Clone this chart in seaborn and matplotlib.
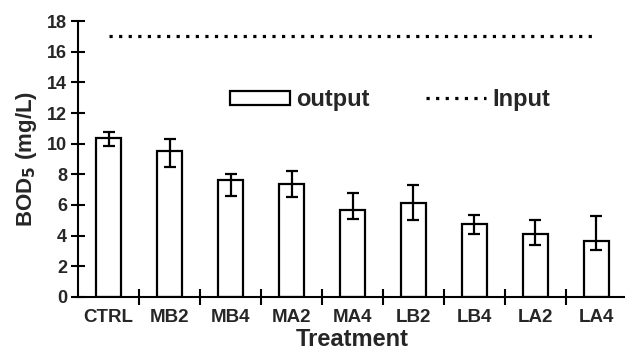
import matplotlib
matplotlib.use("Agg")
import matplotlib.pyplot as plt
import seaborn as sns
import pandas as pd
import numpy as np
from matplotlib.patches import Patch
from matplotlib.lines import Line2D

categories = ["CTRL", "MB2", "MB4", "MA2", "MA4", "LB2", "LB4", "LA2", "LA4"]
output_values = [10.4, 9.5, 7.6, 7.4, 5.7, 6.15, 4.75, 4.1, 3.65]
err_low = [0.55, 1.0, 1.0, 0.9, 0.6, 1.15, 0.65, 0.7, 0.6]
err_high = [0.35, 0.8, 0.45, 0.8, 1.1, 1.15, 0.6, 0.9, 1.6]
input_level = 17
yticks = [0, 2, 4, 6, 8, 10, 12, 14, 16, 18]

sns.set_style("white")
plt.rcParams["font.family"] = ["Liberation Sans", "DejaVu Sans"]
plt.rcParams["font.weight"] = "bold"

fig = plt.figure(figsize=(6.25, 3.51), dpi=100)
ax = fig.add_axes([0.125, 0.154, 0.878, 0.786])

df = pd.DataFrame({"Treatment": categories, "BOD": output_values})
sns.barplot(data=df, x="Treatment", y="BOD", color="white", edgecolor="black",
            linewidth=1.6, width=0.41, ax=ax, errorbar=None, saturation=1)
for p in ax.patches:
    p.set_facecolor("white")

pos = np.arange(len(categories))
ax.errorbar(pos, output_values, yerr=[err_low, err_high], fmt="none",
            ecolor="black", elinewidth=1.6, capsize=4.5, capthick=1.6)

ax.plot([pos[0], pos[-1]], [input_level, input_level], color="black",
        linestyle=(0, (1, 2)), linewidth=2.3, dash_capstyle="butt")

ax.set_xlim(-0.5, len(categories) - 0.5)
ax.set_ylim(0, 18)
ax.set_yticks(yticks)
ax.set_yticklabels([str(t) for t in yticks], fontsize=13, fontweight="bold")
ax.set_xticks(pos)
ax.set_xticklabels(categories, fontsize=13.5, fontweight="bold")
ax.tick_params(axis="x", which="major", bottom=True, length=0, pad=9)
ax.tick_params(axis="y", left=True, direction="inout", length=10, width=1.5,
               pad=3, color="black")
# minor ticks at category boundaries
ax.set_xticks(pos[1:] - 0.5, minor=True)
ax.tick_params(axis="x", which="minor", bottom=True, direction="inout",
               length=11, width=1.5, color="black")

for s in ["top", "right"]:
    ax.spines[s].set_visible(False)
for s in ["left", "bottom"]:
    ax.spines[s].set_linewidth(1.5)
    ax.spines[s].set_color("black")

ax.set_xlabel("Treatment", fontsize=17, fontweight="bold", labelpad=1)
ax.set_ylabel("BOD$_\\mathbf{5}$ (mg/L)", fontsize=16, fontweight="bold", labelpad=6)

handles = [Patch(facecolor="white", edgecolor="black", linewidth=1.6),
           Line2D([0], [0], color="black", linestyle=(0, (1, 2)), linewidth=2.3,
                  dash_capstyle="butt")]
leg = ax.legend(handles, ["output", "Input"], ncol=2, frameon=False,
                loc="center", bbox_to_anchor=(0.568, 0.715),
                prop={"size": 17, "weight": "bold"},
                handlelength=2.55, handleheight=0.55, columnspacing=2.4,
                handletextpad=0.25)

fig.savefig("out.png", dpi=100)
